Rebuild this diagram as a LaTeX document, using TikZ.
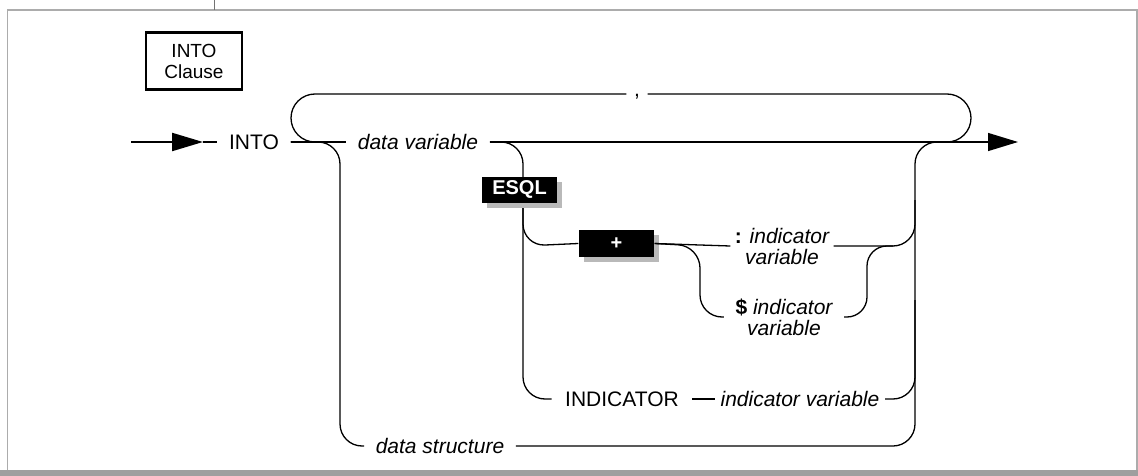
\documentclass[tikz,border=0pt]{standalone}
\usepackage{fontspec}
\setmainfont{Liberation Sans}
\usetikzlibrary{arrows.meta,shadows}

\begin{document}
\begin{tikzpicture}[x=1pt,y=-1pt,line width=1.3pt,
    every node/.style={font=\fontsize{21}{21}\selectfont,inner sep=0pt},
    kw/.style={inner xsep=11pt,inner ysep=2pt},
    var/.style={kw,font=\fontsize{21}{21}\selectfont\itshape},
    tag/.style={fill=black,text=white,font=\fontsize{20}{20}\selectfont\bfseries,
      minimum width=75pt,minimum height=26pt,
      drop shadow={shadow xshift=5pt,shadow yshift=-5pt,fill=gray!55,opacity=1}},
    rail/.style={rounded corners=22pt}]
  \useasboundingbox (0,0) rectangle (1138,476);
  % frame
  \fill[gray!75] (0,470) rectangle (1138,476);
  \draw[gray!65,line width=1.5pt] (7.5,470) -- (7.5,10) -- (1137,10) -- (1137,470);
  \draw[gray!90!black,line width=0.8pt] (214,0) -- (214,10);
  \node[draw,line width=2.5pt,align=center,minimum width=96pt,minimum height=57pt,
    font=\fontsize{19}{21}\selectfont] (title) at (194,61) {INTO\\Clause};
  % nodes on the rails
  \coordinate (start) at (131,142);
  \coordinate (entry) at (203,142);
  \coordinate (exit) at (1018,142);
  \coordinate (join) at (960,142);
  \coordinate (looptop) at (291,94);
  \node[kw] (into) at (254,142) {INTO};
  \node[var] (dvar) at (418,142) {data variable};
  \node[kw,inner xsep=7pt,anchor=base] (comma) at (637,97) {,};
  \node[var] (dstruct) at (440,446) {data structure};
  \node[tag,minimum height=27pt] (plus) at (616.5,243.5) {+};
  \node[var,align=center,inner xsep=4pt] (colon) at (782,246) {{\upshape\bfseries :} indicator\\variable};
  \node[var,align=center] (dollar) at (784,317) {{\upshape\bfseries\$} indicator\\variable};
  \node[kw,inner xsep=13pt] (indkw) at (622,399) {INDICATOR};
  \node[var,inner xsep=5pt] (indvar) at (800,399) {indicator variable};
  % entry and main rail
  \draw[line width=2.2pt,-{Triangle[length=31pt,width=18pt]}] (start) -- (entry);
  \draw (entry) -- (into.west);
  \draw (into.east) -- (dvar.west);
  \draw[-{Triangle[length=30pt,width=18pt]}] (dvar.east) -- (exit);
  % loop back for the comma
  \draw[rounded corners=24pt] (340,142) -- (looptop |- into) -- (looptop) -- (comma.west |- looptop);
  \draw[rounded corners=24pt] (comma.east |- looptop) -- (971,94) -- (971,142) -- (920,142);
  % data structure
  \draw[rail] (into.east) -- (340,142) -- (340,446) -- (dstruct.west);
  \draw[rail] (dstruct.east) -- (915,446) -- (915,142) -- (join);
  % ESQL branch
  \draw[rail] (dvar.east) -- (523,142) -- (523,399) -- (indkw.west);
  \draw (indkw.east) -- (indvar.west);
  \draw[rail] (indvar.east) -- (915,399) -- (915,300);
  \draw[rail] (523,200) -- (523,246) -- (plus.west);
  \draw (plus.east) -- (colon.west);
  \draw[rail] (colon.east) -- (915,246) -- (915,200);
  \draw[rail] (plus.east) -- (700,246) -- (700,317) -- (dollar.west);
  \draw[rounded corners=20pt] (dollar.east) -- (867,317) -- (867,246) -- (893,246);
  \node[tag] (esql) at (519.5,189.5) {ESQL};
\end{tikzpicture}
\end{document}
